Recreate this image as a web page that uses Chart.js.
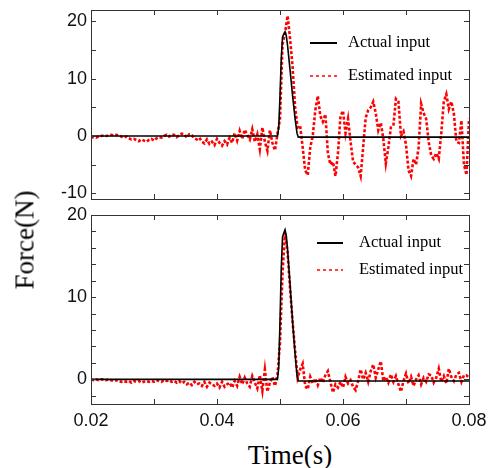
<!DOCTYPE html>
<html>
<head>
<meta charset="utf-8">
<script src="https://cdn.jsdelivr.net/npm/chart.js@4/dist/chart.umd.min.js"></script>
<style>
  html, body { margin: 0; padding: 0; background: #fff; }
  #wrap { position: relative; width: 488px; height: 468px; overflow: hidden; }
  canvas { position: absolute; left: 0; }
  .title { position: absolute; font-family: "Liberation Serif", "Times New Roman", serif; font-size: 27px; color: #000; white-space: nowrap; }
</style>
</head>
<body>
<div id="wrap">
  <canvas id="c1" width="488" height="210" style="top:0px"></canvas>
  <canvas id="c2" width="488" height="232" style="top:205px"></canvas>
  <div class="title" id="ylab" style="left:25px; top:240px; transform: translate(-50%,-50%) rotate(-90deg);">Force(N)</div>
  <div class="title" id="xlab" style="left:290px; top:455px; transform: translate(-50%,-50%);">Time(s)</div>
</div>
<script>
// ---- data ----
const T_START = 0.02, T_STEP = 0.0004, N_POINTS = 151;
const times = Array.from({length: N_POINTS}, (_, i) => +(T_START + i * T_STEP).toFixed(4));

const actualTimes = [0.02, 0.0496, 0.0498, 0.0500, 0.0502, 0.0504, 0.0506, 0.0508, 0.0510, 0.0512, 0.0516, 0.0520, 0.0524, 0.0527, 0.0529, 0.08];
const actualForce = [0, 0, 1.5, 7, 13.5, 17.3, 17.8, 18.2, 17.5, 15.8, 11.5, 7, 3, 0.5, -0.2, -0.2];

const estimatedTop = [
  -0.3, -0.2, -0.3, -0.1, 0.0, 0.1, 0.0, 0.1, 0.2, 0.1,
  0.2, 0.1, -0.1, -0.3, -0.1, -0.4, -0.6, -0.5, -0.7, -0.9,
  -0.6, -0.8, -1.0, -0.7, -0.5, -0.8, -0.4, -0.2, -0.3, 0.0,
  0.2, -0.1, 0.3, 0.2, -0.2, 0.1, 0.4, 0.3, -0.3, 0.3,
  0.1, -0.4, -0.6, -0.3, -1.0, -1.3, -0.6, -1.4, -1.0, -1.6,
  -0.5, -1.2, -1.7, -0.9, -1.5, -0.3, -1.2, 0.5, -0.8, 0.9,
  -0.5, 1.1, 0.2, -0.6, 1.2, -1.0, 0.3, -2.3, 1.5, -1.0,
  -2.6, 1.0, -1.2, -2.5, 0.4, 3.0, 16, 18, 21, 17,
  12, 5, 1.5, 1.8, -2.0, -6.0, -6.8, -2.0, 0.0, 4.5,
  7.0, 3.5, 2.5, 3.8, -3.0, -5.0, -4.5, -7.0, -3.0, 3.5,
  4.4, 0.5, 3.0, -1.0, -4.5, -5.0, -5.5, -7.0, -2.0, 3.2,
  4.5, 5.0, 6.0, 4.0, 1.0, 2.3, -0.5, -4.8, -2.0, 1.5,
  1.8, 6.5, 6.0, 0.0, 0.8, -1.5, -6.0, -7.0, -4.0, -5.0,
  -2.0, 5.6, 4.0, 3.0, -1.0, -3.4, -4.0, -3.0, -4.0, 0.5,
  6.0, 7.3, 4.7, 6.0, 3.9, -1.0, -1.2, 2.7, -5.0, -6.8,
  3.0
];

const estimatedBottom = [
  0.0, -0.1, 0.0, -0.1, 0.0, 0.0, -0.1, 0.0, -0.1, -0.2,
  -0.1, -0.2, -0.3, -0.2, -0.3, -0.2, -0.4, -0.2, -0.3, -0.2,
  -0.4, -0.3, -0.2, -0.3, -0.2, -0.3, -0.1, -0.2, -0.3, -0.1,
  -0.2, -0.1, -0.3, -0.2, -0.4, -0.2, -0.5, -0.3, -0.6, -0.4,
  -0.7, -0.3, -0.6, -0.5, -0.8, -0.3, -0.9, -0.4, -0.6, -0.8,
  -0.5, -1.0, -0.3, -0.9, -0.6, -0.4, -1.0, -0.2, -0.8, 0.3,
  -0.6, 0.2, -0.5, -0.9, 0.4, -0.4, -1.1, 0.5, -1.4, 1.2,
  -1.5, -0.4, 0.3, -0.8, 0.5, 4.5, 13, 17.8, 15.5, 11,
  7, 3.5, 0.2, 1.2, 1.9, -0.8, -1.2, 0.3, -0.5, 0.1,
  -0.7, 0.2, -0.4, 0.5, 1.0, -0.3, -1.6, -0.6, -1.0, -0.3,
  -1.0, 0.3, -0.5, -0.1, -0.9, -1.3, -0.2, 1.2, 0.0, 0.8,
  -0.3, 1.0, 1.8, 0.2, 1.2, 2.2, -0.2, 0.3, -0.4, 0.6,
  -0.3, 0.4, -0.6, -1.5, -0.2, 0.7, -0.5, 0.3, -0.8, 0.0,
  0.5, -0.6, 0.2, -0.3, 0.6, 0.5, -0.4, 0.2, 1.3, -0.3,
  0.4, -0.5, 1.3, 0.3, -0.2, 0.6, 0.8, -0.3, 0.5, 0.5,
  0.2
];

const xTickLabels = [0.02, 0.04, 0.06, 0.08];
const yTickLabelsTop = [-10, 0, 10, 20];
const yTickLabelsBottom = [0, 10, 20];
const legendLabels = ["Actual input", "Estimated input"];

// ---- helpers ----
const toXY = (xs, ys) => xs.map((x, i) => ({x: x, y: ys[i]}));

const framePlugin = {
  id: 'frameTicks',
  afterDatasetsDraw(chart) {
    const {ctx, chartArea: a, scales} = chart;
    ctx.save();
    ctx.strokeStyle = '#333';
    ctx.lineWidth = 1;
    ctx.beginPath();
    const L = 5;
    scales.x.ticks.forEach(t => {
      const px = Math.round(scales.x.getPixelForValue(t.value)) + 0.5;
      ctx.moveTo(px, a.bottom); ctx.lineTo(px, a.bottom - L);
      ctx.moveTo(px, a.top); ctx.lineTo(px, a.top + L);
    });
    scales.y.ticks.forEach(t => {
      const py = Math.round(scales.y.getPixelForValue(t.value)) + 0.5;
      ctx.moveTo(a.left, py); ctx.lineTo(a.left + L, py);
      ctx.moveTo(a.right, py); ctx.lineTo(a.right - L, py);
    });
    ctx.stroke();
    ctx.strokeRect(Math.round(a.left) + 0.5, Math.round(a.top) + 0.5, Math.round(a.right - a.left), Math.round(a.bottom - a.top));
    ctx.restore();
  },
  afterDraw(chart, args, opts) {
    const {ctx} = chart;
    ctx.save();
    ctx.font = '16.5px "Liberation Serif", "Times New Roman", serif';
    ctx.textBaseline = 'middle';
    ctx.fillStyle = '#000';
    const ds = chart.data.datasets;
    ds.forEach((d, i) => {
      const y = opts.rows[i];
      ctx.beginPath();
      ctx.strokeStyle = d.borderColor;
      ctx.lineWidth = i === 0 ? 2 : 1.5;
      ctx.setLineDash(i === 0 ? [] : [3, 3]);
      ctx.moveTo(opts.x0, y); ctx.lineTo(opts.x1, y);
      ctx.stroke();
      ctx.setLineDash([]);
      ctx.fillText(d.label, opts.tx, y);
    });
    ctx.restore();
  }
};

function makeChart(id, est, yMin, yMax, yStep, yLabels, showX, pad, xHeight, legendOpts) {
  return new Chart(document.getElementById(id), {
    type: 'line',
    data: {
      datasets: [
        { label: legendLabels[0], data: toXY(actualTimes, actualForce), borderColor: '#000000', borderWidth: 1.6, pointRadius: 0, tension: 0, fill: false },
        { label: legendLabels[1], data: toXY(times, est), borderColor: '#ff0000', borderWidth: 2.6, borderDash: [3, 2], pointRadius: 0, tension: 0, fill: false }
      ]
    },
    options: {
      responsive: false,
      animation: false,
      events: [],
      layout: { padding: pad },
      plugins: { legend: { display: false }, tooltip: { enabled: false }, frameTicks: legendOpts },
      scales: {
        x: {
          type: 'linear', min: 0.02, max: 0.08,
          grid: { display: false, drawTicks: false },
          border: { display: false },
          afterFit: s => { s.height = xHeight; s.paddingLeft = 0; s.paddingRight = 0; },
          ticks: {
            display: showX, stepSize: 0.01, padding: 6, color: '#111',
            font: { family: '"Liberation Sans", Arial, sans-serif', size: 18 },
            maxRotation: 0, autoSkip: false,
            callback: v => xTickLabels.some(l => Math.abs(l - v) < 1e-6) ? v.toFixed(2) : ''
          }
        },
        y: {
          min: yMin, max: yMax,
          grid: { display: false, drawTicks: false },
          border: { display: false },
          afterFit: s => { s.width = 91; s.paddingTop = 0; s.paddingBottom = 0; },
          ticks: {
            stepSize: yStep, includeBounds: false, padding: 4, color: '#111',
            font: { family: '"Liberation Sans", Arial, sans-serif', size: 18 },
            autoSkip: false,
            callback: v => yLabels.includes(v) ? String(v) : ''
          }
        }
      }
    },
    plugins: [framePlugin]
  });
}

makeChart('c1', estimatedTop, -11, 22, 5, yTickLabelsTop, false,
  { left: 0, right: 19, top: 10, bottom: 0 }, 11,
  { x0: 310, x1: 337, tx: 348, rows: [43, 76] });
makeChart('c2', estimatedBottom, -3, 20, 2, yTickLabelsBottom, true,
  { left: 0, right: 19, top: 10, bottom: 0 }, 33,
  { x0: 317, x1: 343, tx: 359, rows: [38, 65] });
</script>
</body>
</html>
